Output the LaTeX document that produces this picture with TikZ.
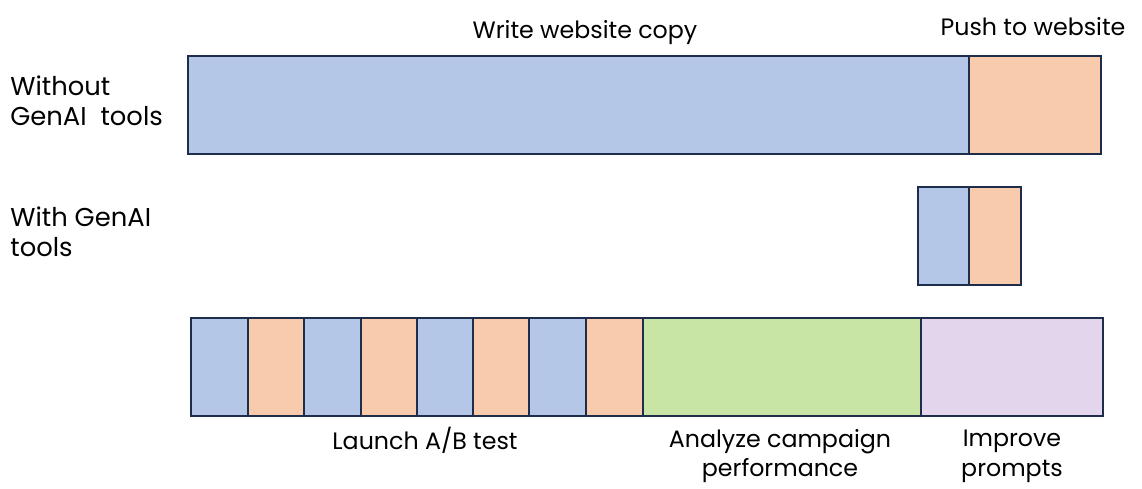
\documentclass[tikz,border=0pt]{standalone}
\usepackage{fontspec}
\setmainfont{Poppins}
\usetikzlibrary{positioning,calc}
\definecolor{ink}{HTML}{1F2D4D}
\definecolor{draft}{HTML}{B4C7E7}
\definecolor{push}{HTML}{F8CBAD}
\definecolor{analyze}{HTML}{C9E5A6}
\definecolor{improve}{HTML}{E2D5EC}
\tikzset{
  seg/.style={draw=ink,line width=1.1pt},
  lbl/.style={font=\fontsize{13.5}{17}\selectfont,text=black,inner sep=0pt,align=center},
  rowlbl/.style={lbl,font=\fontsize{14.7}{17}\selectfont,align=left,anchor=west}
}
\begin{document}
\begin{tikzpicture}[x=0.02cm,y=-0.02cm]
  \useasboundingbox (0,0) rectangle (1142,489);
  % Without GenAI tools
  \draw[seg,fill=draft] (188,56) rectangle (969,154);
  \draw[seg,fill=push] (969,56) rectangle (1101,154);
  \node[lbl] (write) at (585,33) {Write website copy};
  \node[lbl] (pushw) at (1033,27) {Push to website};
  \node[rowlbl] (without) at (10,101) {Without\\GenAI~ tools};

  % With GenAI tools
  \draw[seg,fill=draft] (918,187) rectangle (969,285);
  \draw[seg,fill=push] (969,187) rectangle (1021,285);
  \node[rowlbl] (with) at (10,232) {With GenAI\\tools};

  % Iteration loop
  \foreach \a/\b/\c in {191/248/draft,248/304/push,304/361/draft,361/417/push,
                        417/473/draft,473/529/push,529/586/draft,586/643/push}
    \draw[seg,fill=\c] (\a,318) rectangle (\b,416);
  \draw[seg,fill=analyze] (643,318) rectangle (921,416);
  \draw[seg,fill=improve] (921,318) rectangle (1103,416);
  \node[lbl] (launch) at (425,440) {Launch A/B test};
  \node[lbl] (analyzel) at (780,456) {Analyze campaign\\performance};
  \node[lbl] (improvel) at (1012,456) {Improve\\prompts};
\end{tikzpicture}
\end{document}
